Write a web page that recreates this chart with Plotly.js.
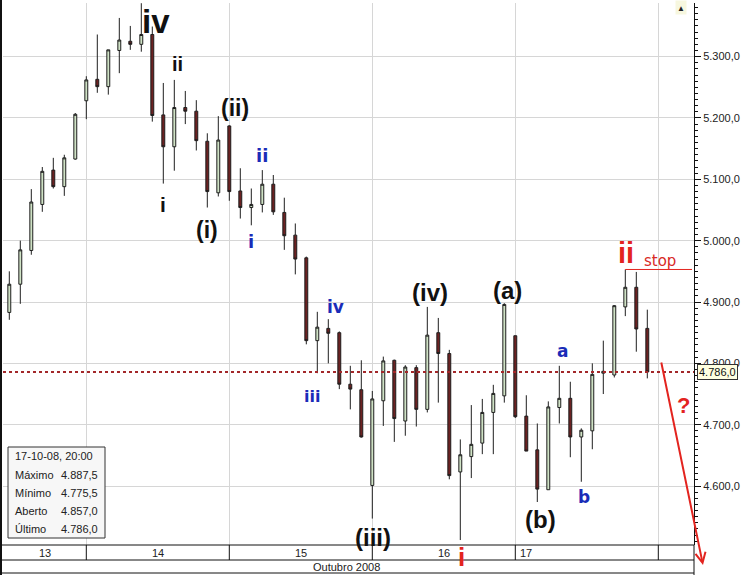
<!DOCTYPE html>
<html>
<head>
<meta charset="utf-8">
<script src="https://cdn.plot.ly/plotly-3.0.1.min.js"></script>
<style>html,body{margin:0;padding:0;background:#fff;}#chart{width:746px;height:575px;}</style>
</head>
<body>
<div id="chart"></div>
<script>
// ---- data (hourly candles, 13-17 Oct 2008) ----
const openV  = [4883,4929,4984,5059,5115,5088,5133,5228,5263,5251,5310,5325,5320,5336,5205,5153,5217,5211,5162,5078,
                5187,5081,5054,5059,5092,5046,5009,4972,4837,4857,4850,4766,4757,4601,4739,4805,4706,4793,4725,4850,
                4816,4623,4648,4670,4720,4747,4845,4714,4659,4594,4728,4743,4680,4690,4784,4781,4892,4924,4857.0];
const highV  = [4950,5000,5084,5120,5135,5140,5208,5268,5336,5311,5363,5350,5387,5349,5257,5262,5244,5229,5175,5203,
                5188,5118,5085,5115,5107,5070,5028,4974,4884,4872,4852,4796,4805,4755,4811,4806,4797,4797,4892,4874,
                4822,4676,4732,4742,4765,4898,4845,4748,4702,4738,4796,4770,4694,4800,4837,4895,4953,4949,4887.5];
const lowV   = [4871,4897,4977,5047,5085,5073,5132,5198,5241,5238,5273,5311,5308,5194,5093,5114,5190,5147,5054,5072,
                5065,5036,5025,5046,5042,4985,4945,4831,4784,4800,4758,4725,4679,4547,4698,4672,4682,4697,4720,4736,
                4611,4512,4613,4652,4652,4736,4711,4657,4574,4594,4702,4647,4607,4660,4750,4777,4877,4819,4775.5];
const closeV = [4929,4985,5063,5113,5088,5135,5206,5262,5251,5311,5327,5320,5336,5204,5153,5217,5211,5163,5080,5164,
                5080,5054,5059,5092,5047,5008,4970,4837,4859,4849,4766,4758,4680,4742,4804,4710,4794,4725,4846,4816,
                4617,4651,4668,4720,4751,4896,4713,4657,4595,4729,4743,4680,4691,4782,4787,4894,4924,4856,4786.0];
const dayLabels = ['13','14','15','16','17'];
const dayStarts = [7,20,33,46,59];     // candle index where each new day starts
const monthLabel = 'Outubro 2008';
const lastStamp = '17-10-08, 20:00';
const infoLabels = ['Máximo','Mínimo','Aberto','Último'];
const stopIdx = 56;

const xIdx = openV.map((_, i) => i);
const last = openV.length - 1;

// ---- helpers ----
const X0 = 3, X1 = 694, Y0 = 3, Y1 = 545;
const Xp = px => (px - X0) / (X1 - X0);          // pixel -> paper x
const Yp = py => (Y1 - py) / (Y1 - Y0);          // pixel -> paper y
const kx = px => (px - 9.3) / 11;                // pixel -> candle index
const vy = py => 4900 - (py - 302) / 0.6135;     // pixel -> price
function fmt(v){
  const s = v.toFixed(1).split('.');
  return s[0].replace(/\B(?=(\d{3})+(?!\d))/g, '.') + ',' + s[1];
}

const trace = {
  type: 'candlestick',
  x: xIdx, open: openV, high: highV, low: lowV, close: closeV,
  increasing: {line: {color: '#1e1e1e', width: 1}, fillcolor: '#cfe2c5'},
  decreasing: {line: {color: '#1e1e1e', width: 1}, fillcolor: '#6c2222'},
  whiskerwidth: 0,
  hoverinfo: 'skip',
  showlegend: false
};

const BLACK = '#111111', BLUE = '#1a2cb8', RED = '#e3241f';
const BOLD = 'Liberation Sans, Arial, sans-serif';
const SMALL = {family: 'Liberation Sans, Arial, sans-serif', size: 11, color: '#222'};
function lab(text, px, py, size, color, family, paperY){
  const a = {text: '<b>' + text + '</b>', x: kx(px), xref: 'x', showarrow: false,
    xanchor: 'center', yanchor: 'middle', font: {family: family || BOLD, size: size, color: color}};
  if (paperY) { a.yref = 'paper'; a.y = Yp(py); } else { a.yref = 'y'; a.y = vy(py); }
  return a;
}
function ptxt(text, px, py, xanchor, font){
  return {text: text, x: Xp(px), y: Yp(py), xref: 'paper', yref: 'paper', xanchor: xanchor || 'center',
    yanchor: 'middle', showarrow: false, font: font || SMALL};
}

const annotations = [
  lab('iv', 156, 21, 33, BLACK),
  lab('ii', 177, 64, 20, BLACK),
  lab('i', 163, 204, 21, BLACK),
  lab('(i)', 207, 230, 23, BLACK),
  lab('(ii)', 235, 108, 23, BLACK),
  lab('ii', 262, 155, 18, BLUE, 'DejaVu Sans, Verdana, sans-serif'),
  lab('i', 251, 241, 18, BLUE, 'DejaVu Sans, Verdana, sans-serif'),
  lab('iv', 335, 307, 17, BLUE, 'DejaVu Sans, Verdana, sans-serif'),
  lab('iii', 312, 396, 16, BLUE, 'DejaVu Sans, Verdana, sans-serif'),
  lab('(iv)', 430, 292, 24, BLACK),
  lab('(iii)', 373, 537, 24, BLACK),
  lab('i', 461, 557, 26, RED, null, true),
  lab('(a)', 507, 290, 24, BLACK),
  lab('a', 562, 351, 17, BLUE, 'DejaVu Sans, Verdana, sans-serif'),
  lab('b', 584, 497, 17, BLUE, 'DejaVu Sans, Verdana, sans-serif'),
  lab('(b)', 540, 519, 24, BLACK),
  lab('ii', 626, 253, 29, RED),
  {text: 'stop', x: kx(660), y: vy(261), xref: 'x', yref: 'y', showarrow: false, yanchor: 'middle',
   font: {family: 'DejaVu Sans, Verdana, sans-serif', size: 15, color: '#d82a26'}},
  lab('?', 683, 405, 22, RED),
  // arrow
  {text: '', x: Xp(703), y: Yp(565), xref: 'paper', yref: 'paper', showarrow: true,
   ax: 661 - 703, ay: 361 - 565, arrowhead: 5, arrowsize: 1, arrowwidth: 2, arrowcolor: RED},
  // price tag
  {text: fmt(closeV[last]), x: Xp(697), y: closeV[last], xref: 'paper', yref: 'y', xanchor: 'left',
   yanchor: 'middle', showarrow: false, bgcolor: '#ffffe1', bordercolor: '#333', borderwidth: 1, borderpad: 1,
   font: {family: 'Liberation Sans, Arial, sans-serif', size: 11, color: '#111'}},
  // small icon top right
  {text: '▲', x: Xp(687), y: Yp(8), xref: 'paper', yref: 'paper', showarrow: false, yanchor: 'middle',
   bgcolor: '#f7f7df', font: {size: 8, color: '#222'}},
  // month label
  ptxt(monthLabel, 346, 567)
];

// day labels in the bottom band
const dayBounds = [kx(X0)].concat(dayStarts);
dayLabels.forEach((d, i) => {
  const isLast = i === dayLabels.length - 1;
  annotations.push({text: d, x: isLast ? dayBounds[i] + 0.25 : (dayBounds[i] + dayBounds[i+1]) / 2,
    xanchor: isLast ? 'left' : 'center', y: Yp(553), xref: 'x', yref: 'paper', yanchor: 'middle',
    showarrow: false, font: SMALL});
});

// info box
const infoVals = [highV[last], lowV[last], openV[last], closeV[last]];
const shapes = [];
shapes.push({type: 'rect', xref: 'paper', yref: 'paper', x0: Xp(8), x1: Xp(105), y0: Yp(447), y1: Yp(538),
  line: {color: '#333', width: 1}, fillcolor: '#f7f7f7', layer: 'above'});
annotations.push(ptxt(lastStamp, 13, 456, 'left'));
infoLabels.forEach((l, i) => {
  const py = 475 + i * 18;
  annotations.push(ptxt(l, 13, py, 'left'));
  annotations.push(ptxt(fmt(infoVals[i]), 59, py, 'left'));
});

// reference dotted line at last close
shapes.push({type: 'line', xref: 'paper', yref: 'y', x0: 0, x1: 1, y0: closeV[last], y1: closeV[last],
  line: {color: '#a3282a', width: 2, dash: 'dot'}});
// stop line
shapes.push({type: 'line', xref: 'x', yref: 'y', x0: stopIdx, x1: kx(692), y0: highV[stopIdx], y1: highV[stopIdx],
  line: {color: RED, width: 1}});
// bottom band
shapes.push({type: 'line', xref: 'paper', yref: 'paper', x0: Xp(1), x1: 1, y0: Yp(560), y1: Yp(560), line: {color: '#111', width: 1}});
shapes.push({type: 'line', xref: 'paper', yref: 'paper', x0: Xp(1), x1: 1, y0: Yp(573), y1: Yp(573), line: {color: '#111', width: 1}});
shapes.push({type: 'line', xref: 'paper', yref: 'paper', x0: 1, x1: 1, y0: Yp(575), y1: 0, line: {color: '#111', width: 1}});
shapes.push({type: 'line', xref: 'paper', yref: 'paper', x0: Xp(1), x1: Xp(1), y0: Yp(575), y1: Yp(0), line: {color: '#111', width: 2}});
shapes.push({type: 'line', xref: 'paper', yref: 'paper', x0: Xp(1), x1: 1, y0: 0, y1: 0, line: {color: '#111', width: 1}});
dayStarts.forEach(k => {
  shapes.push({type: 'line', xref: 'x', yref: 'paper', x0: k, x1: k, y0: Yp(560), y1: 0, line: {color: '#111', width: 1}});
});

const layout = {
  width: 746, height: 575,
  margin: {l: X0, r: 746 - X1, t: Y0, b: 575 - Y1, pad: 0},
  paper_bgcolor: '#ffffff', plot_bgcolor: '#ffffff',
  separators: ',.',
  showlegend: false,
  boxgap: 0.62, boxgroupgap: 0.3,
  xaxis: {type: 'linear', range: [kx(X0), kx(X1)], tickmode: 'array', tickvals: dayStarts,
    showticklabels: false, ticks: '', showgrid: true, gridcolor: '#d6d6d6', gridwidth: 1,
    zeroline: false, showline: false, rangeslider: {visible: false}, fixedrange: true},
  yaxis: {side: 'right', range: [vy(Y1), vy(Y0)], dtick: 100, tick0: 0, tickformat: ',.1f',
    ticks: 'outside', ticklen: 6, tickcolor: '#111', tickwidth: 1,
    minor: {dtick: 10, ticks: 'outside', ticklen: 3, tickcolor: '#111', showgrid: false},
    showline: true, linecolor: '#111', linewidth: 1, mirror: false,
    showgrid: true, gridcolor: '#d6d6d6', gridwidth: 1, zeroline: false,
    tickfont: {family: 'Liberation Sans, Arial, sans-serif', size: 11, color: '#222'}, fixedrange: true},
  annotations: annotations,
  shapes: shapes
};

Plotly.newPlot('chart', [trace], layout, {staticPlot: true, displayModeBar: false});
</script>
</body>
</html>
